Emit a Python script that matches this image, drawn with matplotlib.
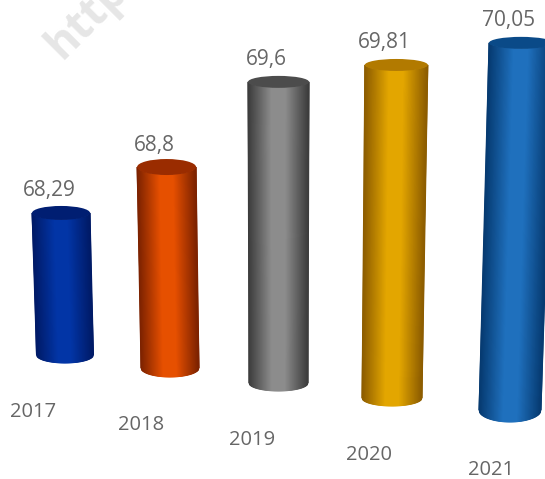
import numpy as np
import matplotlib
matplotlib.use('Agg')
import matplotlib.pyplot as plt
from matplotlib.colors import LinearSegmentedColormap
from matplotlib.patches import Ellipse

years = ['2017', '2018', '2019', '2020', '2021']
values = [68.29, 68.8, 69.6, 69.81, 70.05]
value_labels = ['68,29', '68,8', '69,6', '69,81', '70,05']

edge_colors = ['#001a66', '#7c2200', '#3c3c3c', '#8c5c00', '#063a70']
mid_colors = ['#0235a6', '#e65000', '#8c8c8c', '#e3a600', '#1f70bd']
cap_colors = ['#001e72', '#9a2c00', '#4c4c4c', '#b27a00', '#0a4a88']

# projection of the tilted column chart, one entry per column
BASE_VALUE = 67.15
base_x = [65, 170, 278.5, 392, 510]
base_y = [355, 368, 383, 398, 410]
px_per_unit = [124.6, 121.8, 122.9, 125.2, 126.6]
lean = [-0.028, -0.017, 0.0, 0.013, 0.03]
half_top = [29, 29.5, 30.5, 31.5, 32]
half_bot = [28.5, 29, 29.5, 30, 31]
cap_ry = [7, 8, 6, 6, 6]
foot_ry = [8, 9, 8, 8, 12]
year_pos = [(33, 412), (141, 425), (252, 440), (369, 455), (491, 470)]


def draw_column(ax, i, value):
    height = (value - BASE_VALUE) * px_per_unit[i]
    top_x = base_x[i] + lean[i] * height
    top_y = base_y[i] - height

    u = np.linspace(-1, 1, 61)
    arc = np.sqrt(1 - u ** 2)
    xs = np.vstack([top_x + u * half_top[i], base_x[i] + u * half_bot[i]])
    ys = np.vstack([top_y + cap_ry[i] * arc, base_y[i] + foot_ry[i] * arc])
    shade = np.vstack([u, u])

    cmap = LinearSegmentedColormap.from_list(
        'col', [(0, edge_colors[i]), (0.38, mid_colors[i]), (0.62, mid_colors[i]), (1, edge_colors[i])])
    ax.pcolormesh(xs, ys, shade, shading='gouraud', cmap=cmap, vmin=-1, vmax=1, zorder=2)
    ax.add_patch(Ellipse((top_x, top_y), 2 * half_top[i], 2 * cap_ry[i],
                         facecolor=cap_colors[i], edgecolor='none', zorder=3))
    return top_x, top_y


fig = plt.figure(figsize=(5.45, 4.79), dpi=100)
ax = fig.add_axes([0, 0, 1, 1])
ax.set_xlim(0, 545)
ax.set_ylim(479, 0)
ax.axis('off')

ax.text(62, 60, 'http', rotation=45, rotation_mode='anchor', fontsize=32, fontweight='bold',
        family='Open Sans', color='#e6e6e6', ha='left', va='baseline', zorder=1)

for i, value in enumerate(values):
    top_x, top_y = draw_column(ax, i, value)
    ax.text(top_x - 12, top_y - 22, value_labels[i], ha='center', va='center',
            fontsize=15, family='Open Sans', color='#666666', zorder=4)
    ax.text(year_pos[i][0], year_pos[i][1], years[i], ha='center', va='center',
            fontsize=14.5, family='Open Sans', color='#666666', zorder=4)

fig.savefig('out.png', dpi=100)
plt.close(fig)
